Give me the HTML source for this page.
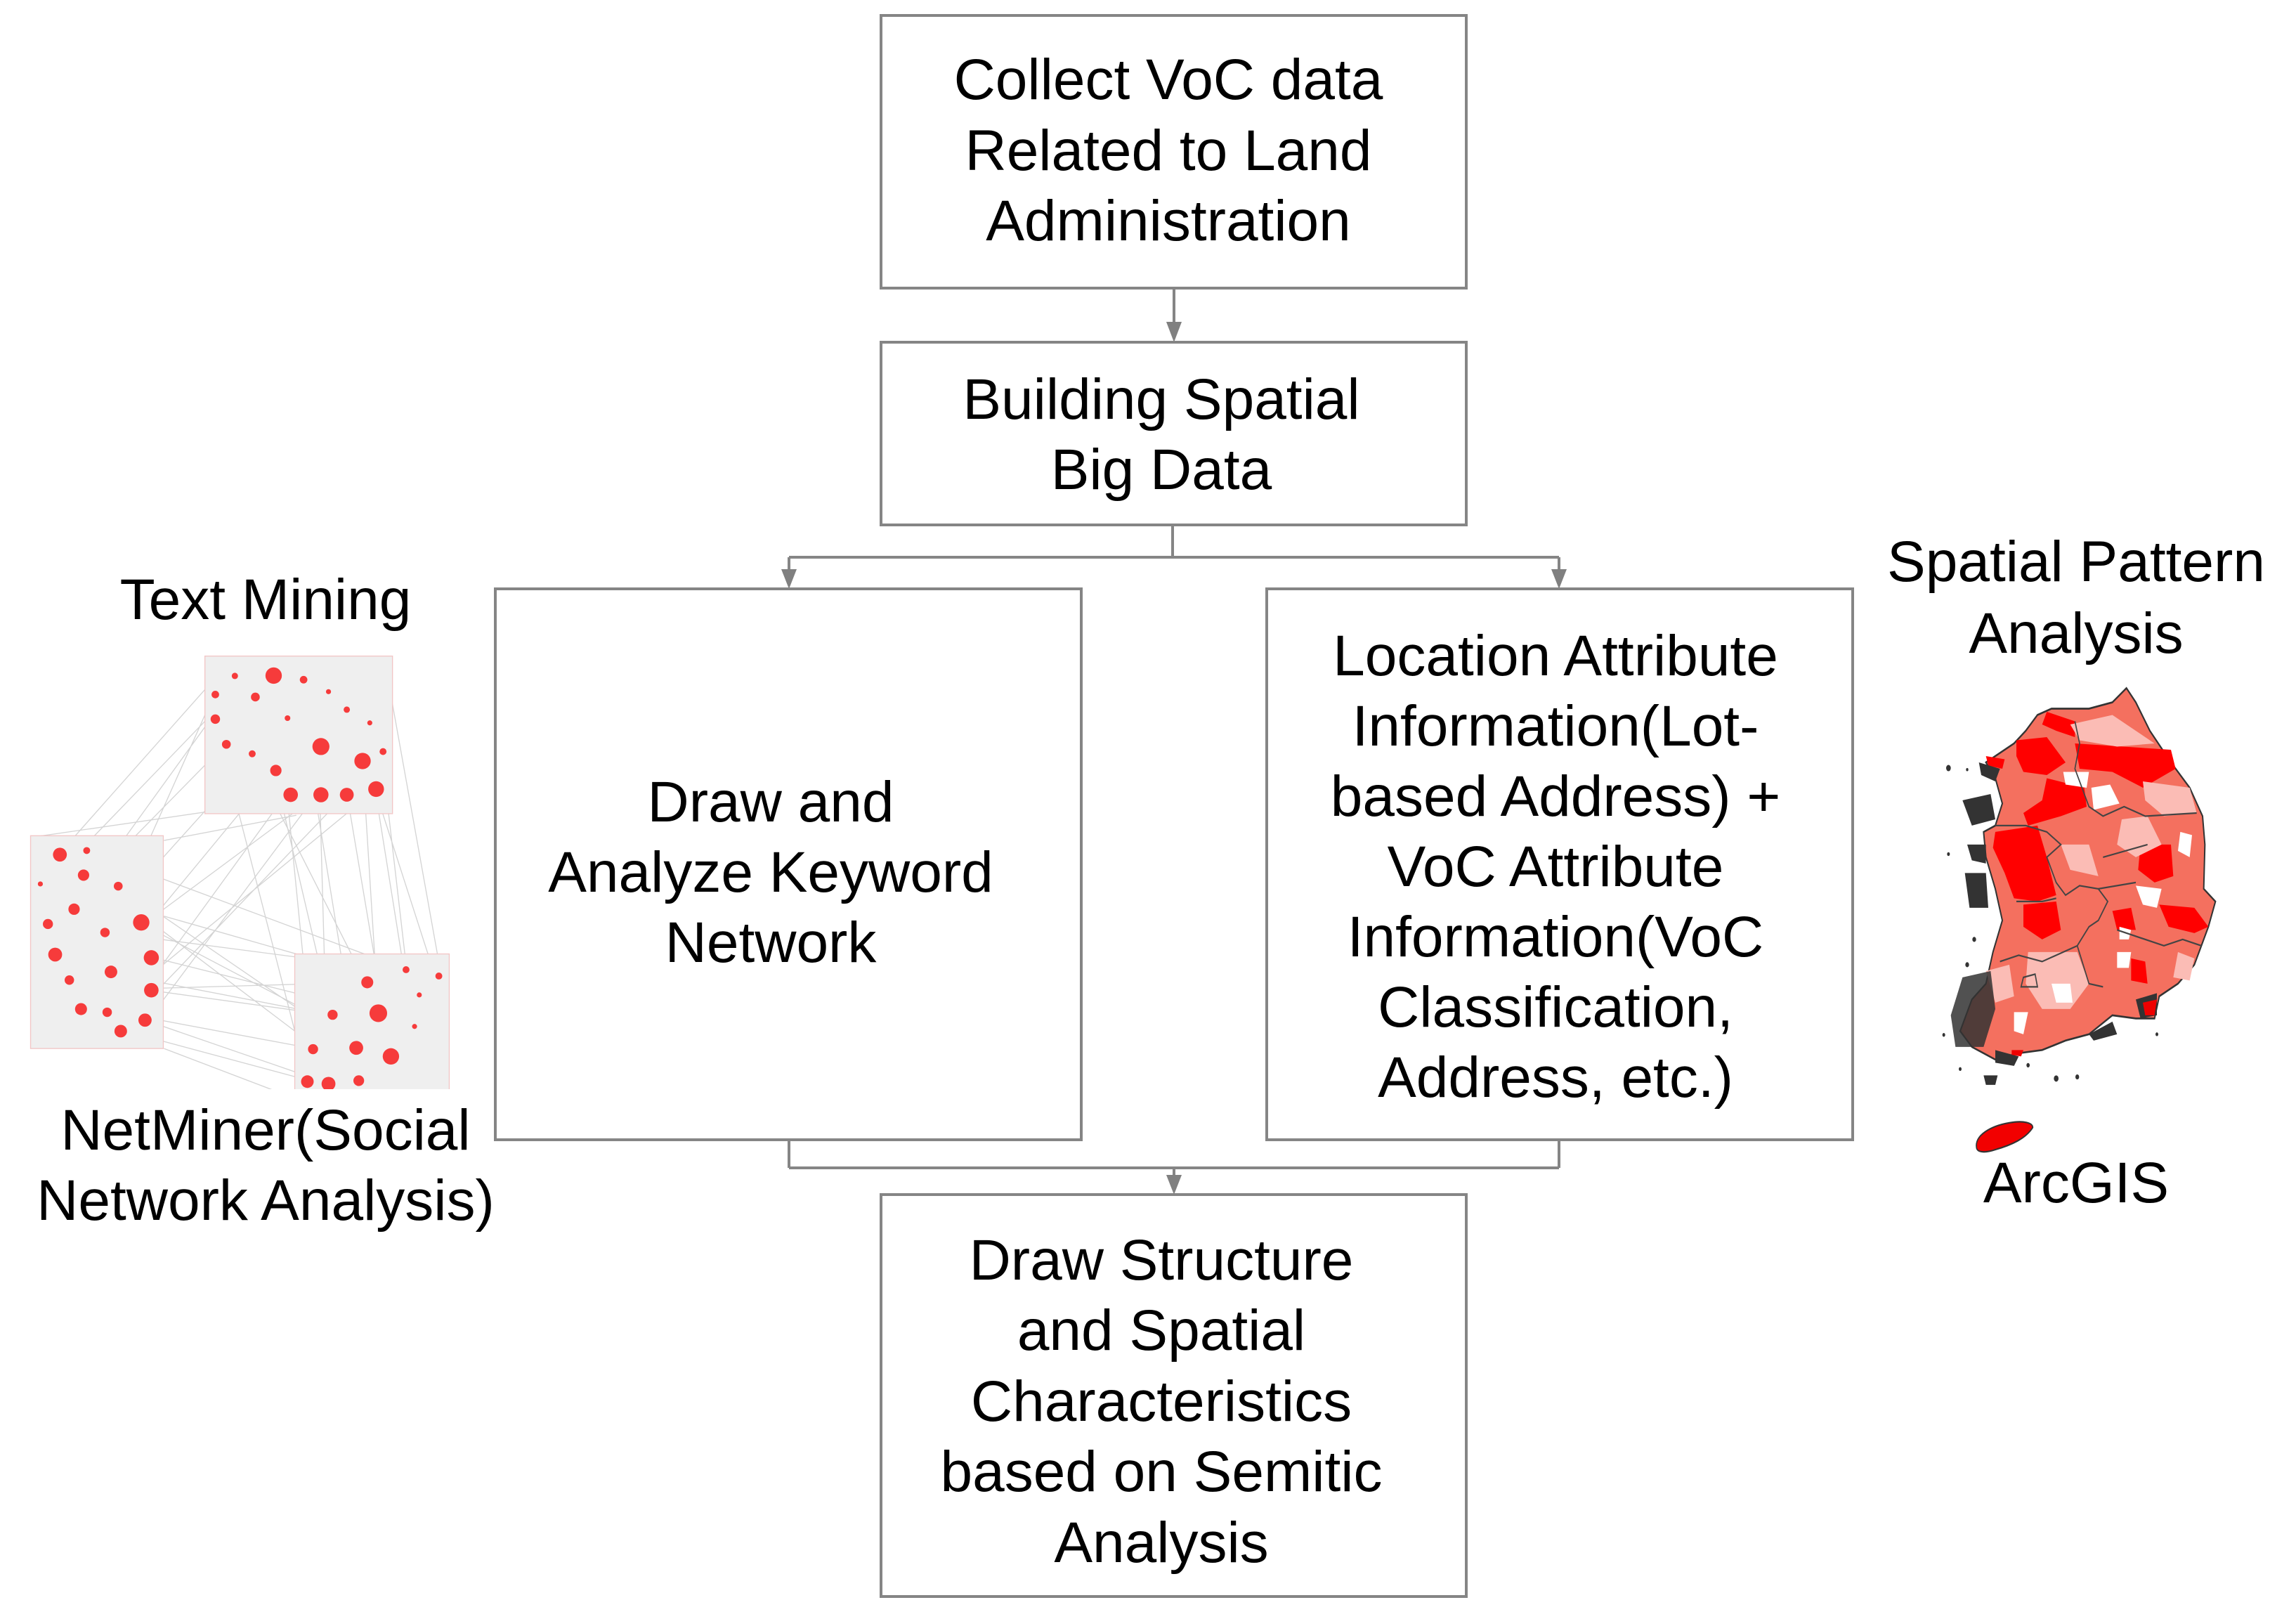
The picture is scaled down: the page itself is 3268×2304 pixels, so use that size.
<!DOCTYPE html>
<html><head><meta charset="utf-8"><style>
html,body{margin:0;padding:0;background:#fff;}
svg{display:block;}
text{font-family:"Liberation Sans",Arial,sans-serif;font-size:82px;fill:#000;}
</style></head><body>
<svg width="3268" height="2304" viewBox="0 0 3268 2304" xmlns="http://www.w3.org/2000/svg">
<defs>
<marker id="ar" markerWidth="10" markerHeight="10" refX="5" refY="9" orient="auto" markerUnits="userSpaceOnUse" viewBox="0 0 10 10"></marker>
</defs>
<g fill="none" stroke="#858585" stroke-width="4">
<rect x="1254" y="22" width="833" height="388"/>
<rect x="1254" y="487" width="833" height="260"/>
<rect x="705" y="838" width="834" height="784"/>
<rect x="1803" y="838" width="834" height="784"/>
<rect x="1254" y="1700" width="833" height="572"/>
<line x1="1671" y1="410" x2="1671" y2="460"/>
<line x1="1669" y1="747" x2="1669" y2="793"/>
<line x1="1123" y1="793" x2="2219" y2="793"/>
<line x1="1123" y1="793" x2="1123" y2="812"/>
<line x1="2219" y1="793" x2="2219" y2="812"/>
<line x1="1123" y1="1622" x2="1123" y2="1662"/>
<line x1="2219" y1="1622" x2="2219" y2="1662"/>
<line x1="1123" y1="1662" x2="2219" y2="1662"/>
<line x1="1671" y1="1662" x2="1671" y2="1675"/>
</g>
<g fill="#808080">
<polygon points="1660,458 1682,458 1671,487"/>
<polygon points="1112,810 1134,810 1123,838"/>
<polygon points="2208,810 2230,810 2219,838"/>
<polygon points="1660,1672 1682,1672 1671,1700"/>
</g>
<g text-anchor="middle">
<text x="1663" y="141">Collect VoC data</text>
<text x="1663" y="242">Related to Land</text>
<text x="1663" y="342">Administration</text>
<text x="1653" y="596">Building Spatial</text>
<text x="1653" y="696">Big Data</text>
<text x="1097" y="1169">Draw and</text>
<text x="1097" y="1269">Analyze Keyword</text>
<text x="1097" y="1369">Network</text>
<text x="2214" y="961">Location Attribute</text>
<text x="2214" y="1061">Information(Lot-</text>
<text x="2214" y="1161">based Address) +</text>
<text x="2214" y="1261">VoC Attribute</text>
<text x="2214" y="1361">Information(VoC</text>
<text x="2214" y="1461">Classification,</text>
<text x="2214" y="1561">Address, etc.)</text>
<text x="1653" y="1821">Draw Structure</text>
<text x="1653" y="1921">and Spatial</text>
<text x="1653" y="2022">Characteristics</text>
<text x="1653" y="2122">based on Semitic</text>
<text x="1653" y="2223">Analysis</text>
<text x="378" y="881">Text Mining</text>
<text x="378" y="1636">NetMiner(Social</text>
<text x="378" y="1736">Network Analysis)</text>
<text x="2955" y="827">Spatial Pattern</text>
<text x="2955" y="929">Analysis</text>
<text x="2955" y="1711">ArcGIS</text>
</g>

<!-- network -->
<svg x="0" y="900" width="700" height="650" viewBox="0 0 1560 1449" preserveAspectRatio="none">
<g stroke="#d0d0d0" stroke-width="3" fill="none" opacity="0.9">
<path d="M660,170 L190,700 M700,230 L150,800 M720,350 L180,900 M800,400 L260,1000 M870,440 L350,1070 M910,510 L460,1130 M1000,520 L470,1230 M1100,510 L380,1260 M1190,500 L340,1200 M650,300 L130,1020 M700,150 L240,1180 M1150,410 L220,1100"/>
<path d="M910,510 L990,1320 M1000,520 L1130,1320 M1100,510 L1240,1340 M1190,500 L1380,1090 M1210,380 L1290,1070 M1150,410 L1200,1210 M870,440 L1050,1210 M1240,200 L1400,1090 M800,400 L1160,1110 M700,350 L975,1420 M1010,360 L1040,1430 M1190,500 L1310,1250"/>
<path d="M460,1130 L1160,1110 M480,1030 L1200,1210 M350,1080 L1050,1215 M380,1260 L975,1420 M460,1230 L1040,1430 M440,920 L1240,1340 M370,800 L1130,1320 M270,690 L1290,1070 M190,700 L1140,1420 M240,1180 L990,1320 M330,950 L1400,1090 M220,1100 L1310,1250"/>
<path d="M520,660 L940,580 M520,900 L940,1020 M520,1320 L940,1480 M650,570 L100,650"/>
</g>
<g fill="#efefef">
<rect x="650" y="75" width="595" height="500"/>
<rect x="97" y="645" width="421" height="675"/>
<rect x="935" y="1020" width="490" height="470"/>
</g>
<g fill="none" stroke="#f2c6c6" stroke-width="3">
<rect x="650" y="75" width="595" height="500"/>
<rect x="97" y="645" width="421" height="675"/>
<rect x="935" y="1020" width="490" height="470"/>
</g>
<g fill="#f63b3b">
<circle cx="745" cy="138" r="10"/><circle cx="868" cy="137" r="26"/><circle cx="963" cy="150" r="12"/>
<circle cx="683" cy="197" r="12"/><circle cx="810" cy="205" r="14"/><circle cx="1042" cy="188" r="8"/>
<circle cx="683" cy="275" r="15"/><circle cx="912" cy="272" r="9"/><circle cx="1100" cy="245" r="10"/>
<circle cx="1173" cy="287" r="8"/><circle cx="718" cy="355" r="14"/><circle cx="800" cy="385" r="11"/>
<circle cx="1018" cy="362" r="27"/><circle cx="1150" cy="408" r="26"/><circle cx="1215" cy="378" r="11"/>
<circle cx="875" cy="438" r="18"/><circle cx="922" cy="515" r="23"/><circle cx="1018" cy="515" r="24"/>
<circle cx="1100" cy="515" r="22"/><circle cx="1193" cy="497" r="25"/>
<circle cx="190" cy="705" r="22"/><circle cx="275" cy="692" r="11"/><circle cx="265" cy="770" r="18"/>
<circle cx="128" cy="798" r="8"/><circle cx="375" cy="805" r="14"/><circle cx="235" cy="878" r="18"/>
<circle cx="152" cy="925" r="16"/><circle cx="448" cy="920" r="26"/><circle cx="333" cy="952" r="15"/>
<circle cx="175" cy="1022" r="22"/><circle cx="480" cy="1032" r="24"/><circle cx="352" cy="1077" r="20"/>
<circle cx="220" cy="1103" r="15"/><circle cx="480" cy="1135" r="23"/><circle cx="257" cy="1195" r="19"/>
<circle cx="340" cy="1205" r="15"/><circle cx="460" cy="1230" r="21"/><circle cx="383" cy="1265" r="20"/>
<circle cx="1288" cy="1070" r="11"/><circle cx="1392" cy="1090" r="11"/><circle cx="1165" cy="1110" r="19"/>
<circle cx="1330" cy="1150" r="8"/><circle cx="1055" cy="1213" r="16"/><circle cx="1200" cy="1208" r="28"/>
<circle cx="1315" cy="1250" r="8"/><circle cx="993" cy="1322" r="16"/><circle cx="1130" cy="1318" r="22"/>
<circle cx="1240" cy="1345" r="26"/><circle cx="975" cy="1425" r="20"/><circle cx="1042" cy="1432" r="22"/>
<circle cx="1138" cy="1422" r="17"/>
</g>
</svg>

<!-- map -->
<svg x="2740" y="950" width="450" height="700" viewBox="0 0 1350 1556" preserveAspectRatio="none">
<path d="M860,65 L900,110 L960,200 L1050,300 L1130,380 L1185,470 L1195,560 L1190,700 L1240,740 L1210,820 L1180,880 L1150,940 L1080,1000 L1000,1040 L980,1110 L900,1110 L800,1100 L700,1160 L600,1180 L500,1210 L400,1220 L300,1240 L200,1200 L150,1150 L200,1050 L260,1000 L290,900 L330,800 L300,700 L260,600 L250,520 L300,500 L330,430 L300,350 L260,300 L380,240 L430,200 L480,150 L540,130 L700,130 L800,110 Z" fill="#f4705f" stroke="#333" stroke-width="6"/>
<g fill="#f00">
<path d="M520,140 L640,170 L640,220 L560,200 L500,180Z"/>
<path d="M390,230 L520,220 L600,300 L520,340 L420,330 L390,280Z"/>
<path d="M640,240 L1050,260 L1070,320 L930,380 L800,330 L660,320Z"/>
<path d="M520,350 L680,380 L690,440 L580,470 L440,500 L420,460 L500,420Z"/>
<path d="M300,520 L480,500 L520,600 L560,720 L480,740 L380,730 L340,650 L290,570Z"/>
<path d="M920,560 L1050,560 L1060,660 L980,680 L910,640Z"/>
<path d="M1000,750 L1150,760 L1210,820 L1150,840 L1040,820Z"/>
<path d="M420,750 L560,740 L580,830 L500,860 L420,820Z"/>
<path d="M800,770 L880,760 L900,830 L820,830Z"/>
<path d="M880,920 L940,930 L950,1000 L880,990Z"/>
<path d="M260,280 L340,290 L330,320 L270,310Z"/>
</g>
<g fill="#fbbcb5">
<path d="M620,180 L800,150 L900,200 L980,240 L820,250 L660,230Z"/>
<path d="M930,360 L1130,380 L1160,460 L1020,470 L940,420Z"/>
<path d="M840,480 L950,470 L1010,560 L900,600 L820,560Z"/>
<path d="M580,560 L700,560 L740,660 L620,640Z"/>
<path d="M440,900 L650,900 L700,1000 L620,1080 L500,1080 L430,1000Z"/>
<path d="M260,960 L360,940 L380,1040 L300,1060Z"/>
<path d="M1080,900 L1150,920 L1130,990 L1060,980Z"/>
</g>
<g fill="#fff">
<path d="M590,330 L700,330 L690,380 L600,370Z"/>
<path d="M710,380 L790,370 L830,430 L720,450Z"/>
<path d="M1090,520 L1140,530 L1130,600 L1080,580Z"/>
<path d="M900,690 L1010,700 L990,760 L930,750Z"/>
<path d="M820,900 L880,900 L870,950 L820,950Z"/>
<path d="M540,1000 L620,1000 L630,1060 L560,1060Z"/>
<path d="M380,1090 L440,1090 L420,1160 L380,1150Z"/>
<path d="M830,820 L880,830 L870,860 L830,860Z"/>
</g>
<g fill="none" stroke="#444" stroke-width="5">
<path d="M640,170 L660,240 L640,320 L700,440 L760,470 L850,440 L940,470 L1160,460"/>
<path d="M300,500 L430,500 L520,520 L580,560 L520,600 L560,680 L600,720 L660,690 L740,700 L780,740 L740,800 L700,820 L650,880 L500,930 L400,910 L320,930"/>
<path d="M760,600 L950,560 M740,700 L900,680 M820,830 L1020,880 L1100,860 L1180,880 M650,880 L700,1000 L760,1010"/>
<path d="M390,740 L500,740 L560,730 M420,980 L470,970 L480,1010 L410,1010Z"/>
</g>
<g fill="#333">
<circle cx="100" cy="318" r="10"/><circle cx="180" cy="323" r="5"/>
<path d="M230,300 L320,320 L300,360 L240,340Z"/>
<path d="M160,420 L280,400 L300,480 L200,500Z"/>
<path d="M180,560 L260,560 L260,620 L200,610Z"/>
<path d="M170,650 L260,650 L270,760 L190,760Z"/>
<path d="M160,980 L280,960 L300,1080 L250,1200 L130,1200 L110,1100Z" opacity="0.85"/>
<path d="M300,1210 L400,1230 L380,1260 L300,1250Z"/>
<path d="M250,1290 L310,1290 L300,1320 L260,1320Z"/>
<path d="M700,1160 L800,1120 L820,1160 L720,1180Z"/>
<path d="M900,1050 L990,1030 L990,1100 L920,1110Z"/>
<circle cx="210" cy="860" r="8"/><circle cx="180" cy="940" r="8"/><circle cx="80" cy="1162" r="6"/>
<circle cx="560" cy="1300" r="10"/><circle cx="650" cy="1295" r="8"/><circle cx="440" cy="1258" r="7"/>
<circle cx="990" cy="1160" r="6"/><circle cx="100" cy="590" r="6"/><circle cx="150" cy="1270" r="6"/>
</g>
<g fill="#e00">
<path d="M930,1060 L990,1050 L980,1100 L940,1100Z"/>
<path d="M370,1210 L420,1210 L410,1230 L370,1225Z"/>
</g>
<path d="M220,1520 C210,1480 280,1450 360,1440 C420,1432 460,1440 460,1455 C430,1490 370,1510 300,1525 C260,1535 225,1535 220,1520Z" fill="#f20000" stroke="#333" stroke-width="5"/>
</svg>
</svg>
</body></html>
